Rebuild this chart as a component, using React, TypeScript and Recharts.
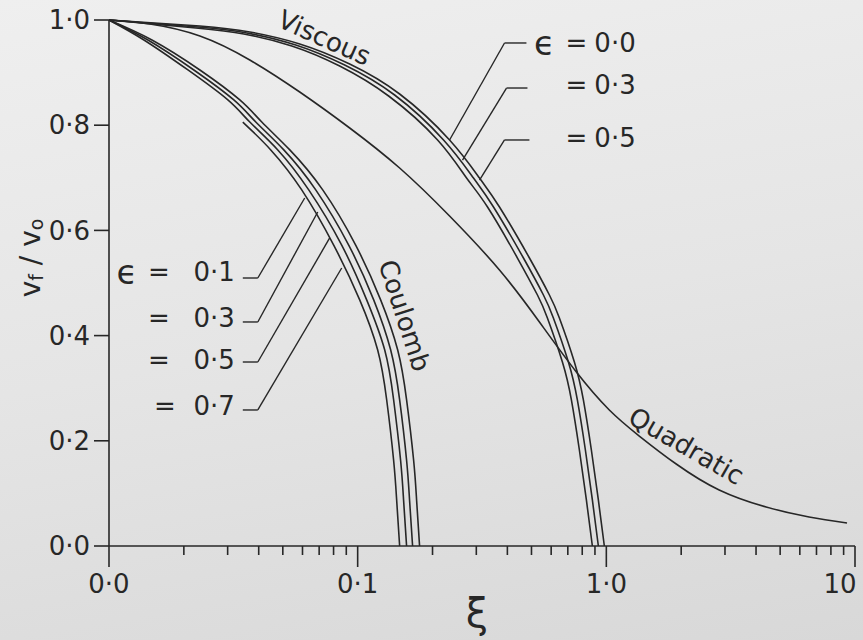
import React from 'react'
import { LineChart, Line, XAxis, YAxis, ReferenceLine, ReferenceDot } from 'recharts'

const INK = '#272727'
const FONT = '"DejaVu Sans", sans-serif'

// axis ticks (log x axis, three decades)
const xMajor = [0.01, 0.1, 1, 10]
const xMajorLabels = ['0·0', '0·1', '1·0', '10']
const xMinor = [
  0.02, 0.03, 0.04, 0.05, 0.06, 0.07, 0.08, 0.09,
  0.2, 0.3, 0.4, 0.5, 0.6, 0.7, 0.8, 0.9,
  2, 3, 4, 5, 6, 7, 8, 9,
]
const yTicks = [0, 0.2, 0.4, 0.6, 0.8, 1]
const yTickLabels = ['0·0', '0·2', '0·4', '0·6', '0·8', '1·0']

// [xi, vf/v0]
const coulomb01 = [
  [0.01, 1], [0.01488, 0.962], [0.0232, 0.905], [0.03358, 0.848], [0.04116, 0.806],
  [0.05334, 0.753], [0.07236, 0.677], [0.09817, 0.572], [0.1237, 0.468], [0.1448, 0.373],
  [0.1573, 0.278], [0.1679, 0.163], [0.1726, 0.087], [0.1774, 0],
]
const coulomb03 = [
  [0.01, 1], [0.01434, 0.962], [0.02194, 0.905], [0.03177, 0.848], [0.03894, 0.806],
  [0.05046, 0.753], [0.06782, 0.677], [0.09203, 0.572], [0.116, 0.468], [0.1357, 0.373],
  [0.1475, 0.278], [0.1573, 0.163], [0.1617, 0.087], [0.1663, 0],
]
const coulomb05 = [
  [0.01, 1], [0.01382, 0.962], [0.02077, 0.905], [0.03006, 0.848], [0.03683, 0.806],
  [0.04773, 0.753], [0.06357, 0.677], [0.08625, 0.572], [0.1087, 0.468], [0.1284, 0.373],
  [0.1395, 0.278], [0.1488, 0.163], [0.153, 0.087], [0.1573, 0],
]
const coulomb07 = [
  [0.03452, 0.806], [0.04473, 0.753], [0.05957, 0.677], [0.08009, 0.572], [0.1019, 0.468],
  [0.1203, 0.373], [0.1308, 0.278], [0.1395, 0.163], [0.1435, 0.087], [0.1475, 0],
]
const viscous00 = [
  [0.01, 1], [0.0232, 0.9886], [0.03683, 0.9772], [0.05848, 0.9544], [0.09288, 0.9163],
  [0.1475, 0.8593], [0.2342, 0.7719], [0.309, 0.6996], [0.3718, 0.6445], [0.4907, 0.5475],
  [0.5903, 0.4772], [0.6475, 0.4335], [0.7438, 0.3498], [0.8085, 0.2776], [0.8706, 0.1825],
  [0.9288, 0.0875], [0.9817, 0],
]
const viscous03 = [
  [0.01, 1], [0.02278, 0.9867], [0.03583, 0.9753], [0.05636, 0.9525], [0.08867, 0.9144],
  [0.1408, 0.8574], [0.2215, 0.7719], [0.2923, 0.6996], [0.3518, 0.6445], [0.4642, 0.5475],
  [0.5585, 0.4772], [0.6125, 0.4335], [0.7038, 0.3498], [0.7647, 0.2776], [0.8237, 0.1825],
  [0.8787, 0.0875], [0.9288, 0],
]
const viscous05 = [
  [0.01, 1], [0.02236, 0.9848], [0.03485, 0.9734], [0.05433, 0.9506], [0.08465, 0.9125],
  [0.1332, 0.8555], [0.2096, 0.7719], [0.2741, 0.6996], [0.3328, 0.6445], [0.4391, 0.5475],
  [0.5284, 0.4772], [0.5795, 0.4335], [0.6658, 0.3498], [0.7236, 0.2776], [0.7791, 0.1825],
  [0.8313, 0.0875], [0.8787, 0],
]
const quadratic = [
  [0.01, 1], [0.01461, 0.9924], [0.0232, 0.9696], [0.03683, 0.924], [0.05848, 0.8631],
  [0.09288, 0.7947], [0.1475, 0.7186], [0.2342, 0.6274], [0.3718, 0.5247], [0.5382, 0.4259],
  [0.7576, 0.3308], [1.028, 0.2586], [1.357, 0.2091], [1.91, 0.1559], [2.843, 0.1065],
  [4.391, 0.0741], [6.536, 0.0551], [9.288, 0.0437],
]

const curves = [coulomb01, coulomb03, coulomb05, coulomb07, viscous00, viscous03, viscous05, quadratic]

// leader lines from the epsilon labels to the curves
const leaders = [
  [[0.03452, 0.5095], [0.03967, 0.5095], [0.06124, 0.6616]],
  [[0.03452, 0.4259], [0.03967, 0.4259], [0.06909, 0.635]],
  [[0.03452, 0.3498], [0.03967, 0.3498], [0.07718, 0.5856]],
  [[0.03452, 0.2586], [0.03967, 0.2586], [0.08625, 0.5285]],
  [[0.4772, 0.9563], [0.3895, 0.9563], [0.2342, 0.7719]],
  [[0.4817, 0.8707], [0.3967, 0.8707], [0.264, 0.7338]],
  [[0.4906, 0.7719], [0.3895, 0.7719], [0.309, 0.6958]],
]

// text notes: [xi, v, text, angle, anchor, size]
const notes: [number, number, string, number, string, number][] = [
  [0.0735, 0.966, 'Viscous', 24, 'middle', 26],
  [0.1545, 0.438, 'Coulomb', 72, 'middle', 26],
  [2.096, 0.19, 'Quadratic', 30, 'middle', 26],
  // right-hand epsilon labels
  [0.5636, 0.9563, 'ϵ', 0, 'middle', 34],
  [0.7576, 0.9563, '=', 0, 'middle', 26],
  [0.7576, 0.8764, '=', 0, 'middle', 26],
  [0.7576, 0.7757, '=', 0, 'middle', 26],
  [0.8951, 0.9563, '0·0', 0, 'start', 26],
  [0.8951, 0.8764, '0·3', 0, 'start', 26],
  [0.8951, 0.7757, '0·5', 0, 'start', 26],
  // left-hand epsilon labels
  [0.0118, 0.5209, 'ϵ', 0, 'middle', 34],
  [0.01588, 0.5209, '=', 0, 'middle', 26],
  [0.01588, 0.4335, '=', 0, 'middle', 26],
  [0.01588, 0.3536, '=', 0, 'middle', 26],
  [0.01679, 0.2662, '=', 0, 'middle', 26],
  [0.03206, 0.5209, '0·1', 0, 'end', 26],
  [0.03206, 0.4335, '0·3', 0, 'end', 26],
  [0.03206, 0.3536, '0·5', 0, 'end', 26],
  [0.03206, 0.2662, '0·7', 0, 'end', 26],
]

const toPts = (rows: number[][]) => rows.map(([xi, v]) => ({ xi, v }))

const textStyle = { fill: INK, fontSize: 26, fontFamily: FONT }

function XTick({ x, y, payload }: any) {
  const i = xMajor.findIndex((m) => Math.abs(m - payload.value) / m < 1e-6)
  const major = i >= 0
  return (
    <g>
      <line x1={x} y1={y} x2={x} y2={y + (major ? 21 : 9)} stroke={INK} strokeWidth={1.6} />
      {major && (
        <text x={x} y={y + 38} dx={i === 3 ? -15 : 0} textAnchor="middle" dominantBaseline="central" {...textStyle}>
          {xMajorLabels[i]}
        </text>
      )}
    </g>
  )
}

const noteShape = (text: string, angle: number, anchor: string, size: number) => (p: any) => (
  <text
    x={p.cx}
    y={p.cy}
    textAnchor={anchor as any}
    dominantBaseline="central"
    transform={angle ? `rotate(${angle} ${p.cx} ${p.cy})` : undefined}
    {...textStyle}
    fontSize={size}
  >
    {text}
  </text>
)

const YTitle = ({ viewBox }: any) => {
  const cx = (viewBox?.x ?? 49) - 19
  const cy = (viewBox?.y ?? 20) + (viewBox?.height ?? 526) / 2 - 25
  return (
    <text x={cx} y={cy} textAnchor="middle" dominantBaseline="central" transform={`rotate(-90 ${cx} ${cy})`} {...textStyle} fontSize={28}>
      <tspan>v</tspan>
      <tspan fontSize={19} dy={6}>f</tspan>
      <tspan dy={-6}> / v</tspan>
      <tspan fontSize={19} dy={6}>o</tspan>
    </text>
  )
}

const XTitle = ({ viewBox }: any) => {
  const cx = (viewBox?.x ?? 109) + 368
  const cy = (viewBox?.y ?? 546) + 67
  return (
    <text x={cx} y={cy} textAnchor="middle" dominantBaseline="central" fill={INK} fontSize={40} fontFamily={FONT}>
      ξ
    </text>
  )
}

export default function App() {
  return (
    <div
      style={{
        position: 'absolute',
        left: 0,
        top: 0,
        width: 863,
        height: 640,
        background: 'linear-gradient(170deg, #efefef 0%, #e5e5e5 50%, #d8d8d8 100%)',
      }}
    >
      <LineChart width={863} height={640} margin={{ top: 20, right: 8, bottom: 54, left: 49 }}>
        <XAxis
          type="number"
          dataKey="xi"
          scale="log"
          domain={[0.01, 10]}
          allowDataOverflow
          ticks={[...xMajor, ...xMinor]}
          interval={0}
          tick={<XTick />}
          tickLine={false}
          tickSize={0}
          tickMargin={0}
          height={40}
          axisLine={{ stroke: INK, strokeWidth: 1.6 }}
          label={XTitle}
        />
        <YAxis
          type="number"
          dataKey="v"
          domain={[0, 1]}
          ticks={yTicks}
          interval={0}
          width={60}
          tickSize={15}
          tickMargin={4}
          tickFormatter={(v: number) => yTickLabels[yTicks.findIndex((t) => Math.abs(t - v) < 1e-6)]}
          tick={textStyle}
          tickLine={{ stroke: INK, strokeWidth: 1.6 }}
          axisLine={{ stroke: INK, strokeWidth: 1.6 }}
          label={YTitle}
        />
        {curves.map((c, i) => (
          <Line
            key={i}
            data={toPts(c)}
            dataKey="v"
            type="natural"
            stroke={INK}
            strokeWidth={1.6}
            dot={false}
            isAnimationActive={false}
          />
        ))}
        {leaders.flatMap((l, i) =>
          l.slice(1).map((p, j) => (
            <ReferenceLine
              key={`ld-${i}-${j}`}
              segment={[{ x: l[j][0], y: l[j][1] }, { x: p[0], y: p[1] }]}
              stroke={INK}
              strokeWidth={1.4}
            />
          ))
        )}
        {notes.map(([xi, v, text, angle, anchor, size], i) => (
          <ReferenceDot key={`n-${i}`} x={xi} y={v} r={1} shape={noteShape(text, angle, anchor, size)} />
        ))}
      </LineChart>
    </div>
  )
}
